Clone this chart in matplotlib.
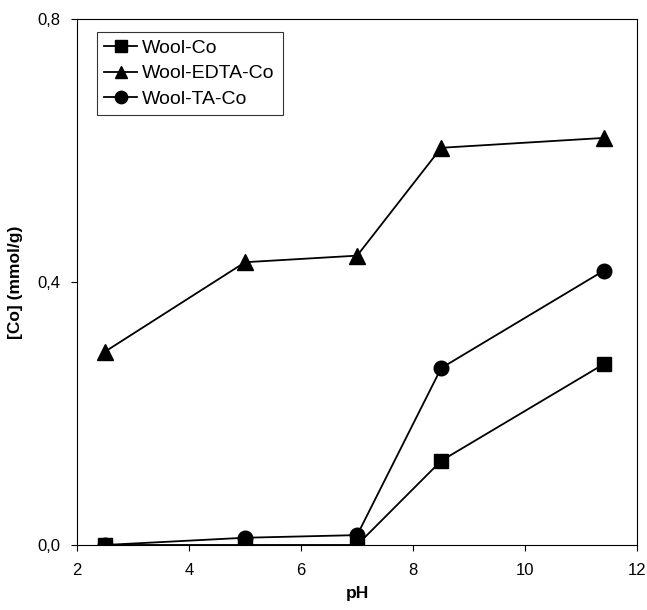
import matplotlib
matplotlib.use('Agg')
import matplotlib.pyplot as plt
from matplotlib.ticker import FuncFormatter

plt.rcParams['font.family'] = ['Liberation Sans', 'DejaVu Sans']

ph = [2.5, 5.0, 7.0, 8.5, 11.4]
wool_co = [0.0, 0.0, 0.0, 0.128, 0.275]
wool_edta_co = [0.294, 0.430, 0.440, 0.604, 0.619]
wool_ta_co = [0.0, 0.011, 0.015, 0.269, 0.417]

fig = plt.figure(figsize=(6.47, 6.10), dpi=100)
ax = fig.add_axes([0.119, 0.1066, 0.866, 0.8624])

ax.plot(ph, wool_co, color='black', marker='s', markersize=10.5, lw=1.3, label='Wool-Co')
ax.plot(ph, wool_edta_co, color='black', marker='^', markersize=11, lw=1.3, label='Wool-EDTA-Co')
ax.plot(ph, wool_ta_co, color='black', marker='o', markersize=10.5, lw=1.3, label='Wool-TA-Co')

ax.set_xlim(2, 12)
ax.set_ylim(0, 0.8)
ax.set_xticks([2, 4, 6, 8, 10, 12])
ax.set_yticks([0.0, 0.4, 0.8])
ax.yaxis.set_major_formatter(FuncFormatter(lambda v, p: f'{v:.1f}'.replace('.', ',')))
ax.tick_params(labelsize=12, length=4, direction='out')
ax.tick_params(axis='x', pad=9)
ax.tick_params(axis='y', pad=8)
ax.set_xlabel('pH', fontsize=12.5, fontweight='bold', labelpad=6)
ax.set_ylabel('[Co] (mmol/g)', fontsize=12.5, fontweight='bold', labelpad=10)

leg = ax.legend(loc='upper left', bbox_to_anchor=(0.035, 0.976), fontsize=14,
                frameon=True, fancybox=False, edgecolor='black', handlelength=1.7,
                borderpad=0.4, labelspacing=0.4, handletextpad=0.25, borderaxespad=0,
                markerscale=0.85)
leg.get_frame().set_linewidth(0.8)

fig.savefig('out.png', dpi=100)
